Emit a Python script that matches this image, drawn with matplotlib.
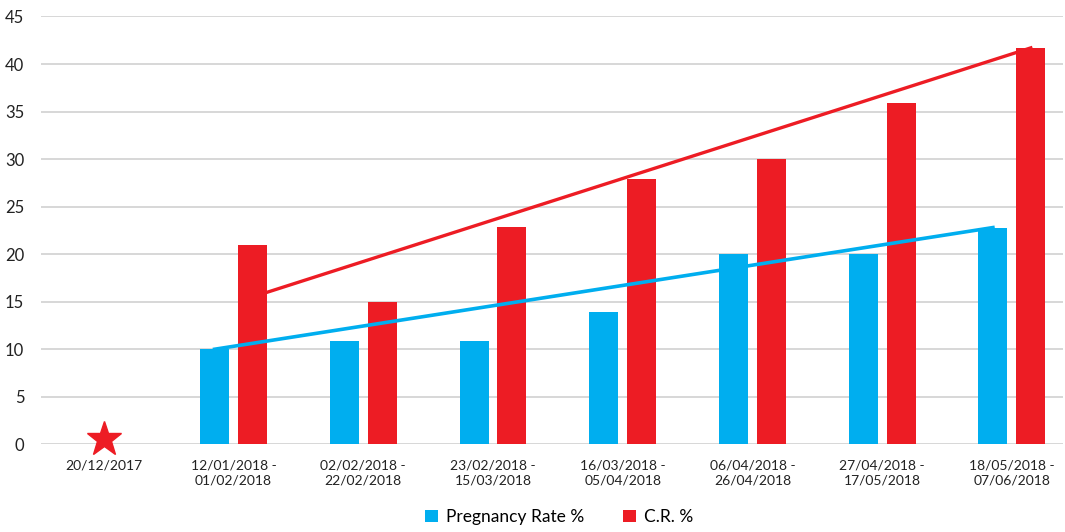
import numpy as np
import matplotlib.pyplot as plt

plt.rcParams['font.family'] = ['Lato', 'DejaVu Sans']

# periodi di controllo
periods = ['20/12/2017',
           '12/01/2018 -\n01/02/2018', '02/02/2018 -\n22/02/2018',
           '23/02/2018 -\n15/03/2018', '16/03/2018 -\n05/04/2018',
           '06/04/2018 -\n26/04/2018', '27/04/2018 -\n17/05/2018',
           '18/05/2018 -\n07/06/2018']
pregnancy_rate = [np.nan, 10, 10.9, 10.9, 13.9, 20, 20, 22.8]
cr_rate = [np.nan, 21, 15, 22.9, 27.9, 30, 35.9, 41.7]

# linee di tendenza (primo e ultimo periodo)
pr_trend = [10, 22.8]
cr_trend = [15.5, 41.7]

start_value = 0.6  # stella al giorno di inizio

blue = '#00AEEF'
red = '#ED1C24'

fig = plt.figure(figsize=(10.65, 5.32), dpi=100)
ax = fig.add_axes([0.0385, 0.1648, 0.9595, 0.8042])

x = np.arange(len(periods))
w = 0.2235
off = 0.146
b1 = ax.bar(x - off, pregnancy_rate, w, color=blue, zorder=2, label='Pregnancy Rate %')
b2 = ax.bar(x + off, cr_rate, w, color=red, zorder=2, label='C.R. %')

ax.plot([x[1] - off, x[-1] - off], pr_trend, color=blue, lw=2.6, zorder=3)
ax.plot([x[1] + off, x[-1] + off], cr_trend, color=red, lw=2.4, zorder=3)

ax.plot([x[0]], [start_value], marker='*', color=red, markersize=26, zorder=4, clip_on=False)

ax.set_xlim(-0.484, 7.393)
ax.set_ylim(0, 45)
ax.set_yticks(np.arange(0, 46, 5))
ax.set_xticks(x)
ax.set_xticklabels(periods, fontsize=10, color='#222222', linespacing=1.25)
ax.tick_params(axis='y', labelsize=12, labelcolor='#222222', length=0, pad=12)
ax.tick_params(axis='x', length=0, pad=11)
ax.yaxis.grid(True, color='#D4D4D4', lw=1.3, zorder=0)
ax.set_axisbelow(True)
for s in ax.spines.values():
    s.set_visible(False)

fig.legend(handles=[b1, b2], loc='center', bbox_to_anchor=(0.525, 0.028), ncol=2,
           frameon=False, fontsize=12.5, handlelength=0.75, handleheight=0.75,
           handletextpad=0.5, columnspacing=2.2)

fig.savefig('out.png', dpi=100)
